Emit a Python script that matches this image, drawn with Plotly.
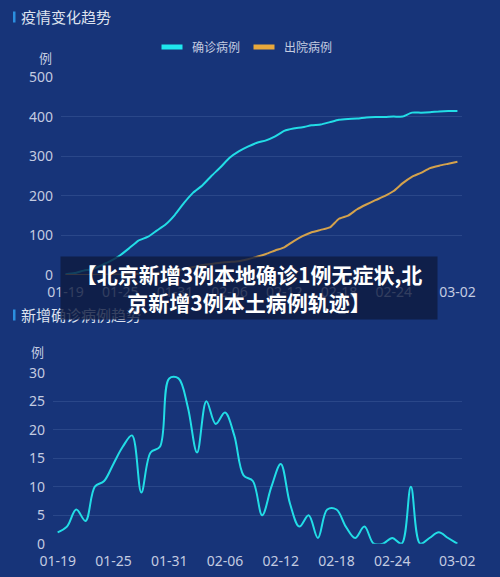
import pandas as pd
import plotly.graph_objects as go

# 日期 (2020-01-19 ~ 03-02)
dates = pd.date_range("2020-01-19", "2020-03-02").strftime("%m-%d").tolist()
tick_labels = ["01-19", "01-25", "01-31", "02-06", "02-12", "02-18", "02-24", "03-02"]

# 累计确诊 / 出院
confirmed = [2, 5, 11, 15, 25, 36, 50, 68, 87, 96, 112, 128, 152, 182, 208,
             226, 250, 272, 296, 312, 324, 334, 340, 350, 364, 370, 373, 378,
             380, 386, 392, 394, 395, 398, 399, 399, 400, 400, 410, 410, 411,
             413, 414, 414]
discharged = [0, 0, 0, 0, 1, 1, 1, 2, 3, 4, 5, 8, 10, 15, 20, 25, 28, 31, 33,
              35, 40, 46, 53, 62, 70, 85, 98, 108, 114, 120, 142, 150, 166,
              178, 189, 199, 212, 232, 248, 258, 270, 276, 281, 286]

# 新增确诊
new_cases = [2, 3, 6, 4, 10, 11, 14, 17, 19, 9, 16, 17, 29, 29, 24, 16, 25, 21,
             23, 19, 12, 11, 5, 10, 14, 7, 3, 5, 1, 6, 6, 3, 1, 3, 0, 0, 1, 0,
             10, 0, 1, 2, 1, 0]

bg = "#173479"
grid = "#2a4789"
tick_color = "#c3cbe0"
cyan = "#22dde6"
orange = "#d4a24c"
font = "Noto Sans, Noto Sans CJK SC"

fig = go.Figure()

# 上图
fig.add_trace(go.Scatter(x=dates, y=confirmed, mode="lines", showlegend=False,
                         line=dict(color=cyan, width=2, shape="spline", smoothing=0.5),
                         xaxis="x", yaxis="y"))
fig.add_trace(go.Scatter(x=dates, y=discharged, mode="lines", showlegend=False,
                         line=dict(color=orange, width=2, shape="spline", smoothing=0.5),
                         xaxis="x", yaxis="y"))

# 图例
for name, color in [("确诊病例", "#1fe6ee"), ("出院病例", "#e8a83c")]:
    fig.add_trace(go.Scatter(x=[None], y=[None], mode="markers", name=name,
                             marker=dict(symbol="line-ew", size=15,
                                         line=dict(width=5, color=color)),
                             xaxis="x", yaxis="y"))

# 下图
fig.add_trace(go.Scatter(x=dates, y=new_cases, mode="lines", showlegend=False,
                         line=dict(color=cyan, width=2, shape="spline", smoothing=1),
                         xaxis="x2", yaxis="y2"))

H = 577.0
xcommon = dict(type="category", range=[-0.5, len(dates) - 0.5], tickvals=tick_labels,
               showgrid=False, zeroline=False, showline=False, ticks="",
               automargin=False,
               tickfont=dict(family=font, size=14, color=tick_color),
               ticklabelstandoff=7)
ycommon = dict(showgrid=True, gridcolor=grid, gridwidth=1, zeroline=False,
               showline=False, ticks="", ticklabelstandoff=7, automargin=False,
               tickfont=dict(family=font, size=14, color=tick_color))

fig.update_layout(
    width=500, height=577,
    margin=dict(l=0, r=0, t=0, b=0, pad=0, autoexpand=False),
    paper_bgcolor=bg, plot_bgcolor=bg,
    xaxis=dict(domain=[61 / 500, 462 / 500], anchor="y", **xcommon),
    yaxis=dict(domain=[1 - 275 / H, 1 - 77 / H], range=[0, 500], dtick=100,
               anchor="x", **ycommon),
    xaxis2=dict(domain=[53 / 500, 462 / 500], anchor="y2", **xcommon),
    yaxis2=dict(domain=[1 - 543.7 / H, 1 - 372.7 / H], range=[0, 30], dtick=5,
                anchor="x2", **ycommon),
    legend=dict(orientation="h", x=0.488, xanchor="center", y=1 - 47 / H,
                yanchor="middle", bgcolor="rgba(0,0,0,0)", itemwidth=30,
                entrywidth=47, entrywidthmode="pixels",
                font=dict(family=font, size=12, color=tick_color)),
    showlegend=True,
)

# 标题前的小竖条
for y0 in (11.5, 309.5):
    fig.add_shape(type="rect", xref="paper", yref="paper",
                  x0=13 / 500, x1=15.5 / 500, y0=1 - (y0 + 11) / H, y1=1 - y0 / H,
                  fillcolor="#2b8fe0", line_width=0)

notes = [
    ("疫情变化趋势", 19, 17, 15, "#dde2ee", "left"),
    ("新增确诊病例趋势", 19, 315, 15, "#dde2ee", "left"),
    ("例", 45, 57, 13, tick_color, "center"),
    ("例", 37.5, 351, 13, tick_color, "center"),
]
for text, x, y, size, color, anchor in notes:
    fig.add_annotation(text=text, xref="paper", yref="paper", x=x / 500, y=1 - y / H,
                       xanchor=anchor, yanchor="middle", showarrow=False,
                       font=dict(family="Noto Sans CJK SC", size=size, color=color))

# 覆盖的标题框
fig.add_annotation(
    text="<b>【北京新增3例本地确诊1例无症状,北<br>京新增3例本土病例轨迹】</b>",
    xref="paper", yref="paper", x=249 / 500, y=1 - 288 / H,
    xanchor="center", yanchor="middle", showarrow=False,
    width=376, height=62, align="center", valign="middle",
    bgcolor="rgba(14,26,62,0.8)", borderpad=0,
    font=dict(family="Noto Sans CJK SC", size=21, color="#ffffff"),
)

# 页面去掉默认边距
fig.write_html("out.html", config={"displayModeBar": False},
               post_script="document.body.style.margin='0';")
